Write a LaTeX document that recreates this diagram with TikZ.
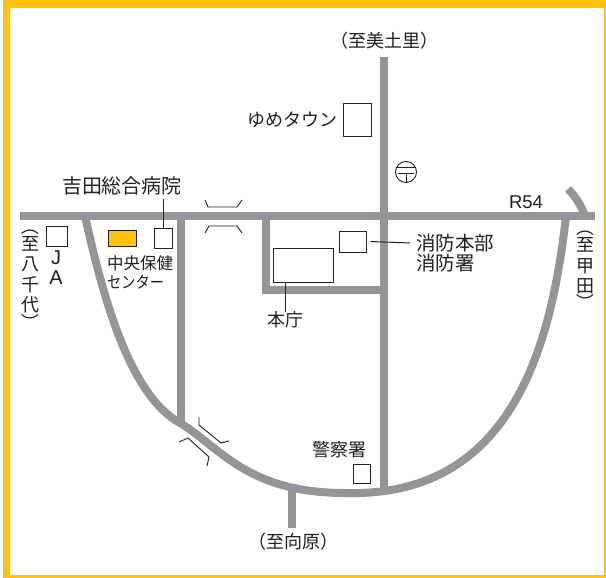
\documentclass[tikz,border=0pt]{standalone}
\usepackage{fontspec}
\setmainfont{Noto Sans CJK JP}
\newfontfamily\latinf{Liberation Sans}
\newcommand{\vparen}[2]{\smash{\raisebox{#2}{\rotatebox[origin=c]{-90}{#1}}}}
\tikzset{
  road/.style={draw=roadgray,line width=8pt,line cap=butt,line join=miter},
  bridgeline/.style={draw=inkc,line width=0.9pt},
  bldg/.style={draw=inkc,line width=1pt,fill=white,inner sep=0pt,minimum width=#1},
  leader/.style={draw=inkc,line width=1pt},
  lbl/.style={text=inkc,inner sep=0pt,font=\fontsize{#1}{#1}\selectfont},
  stack/.style={text=inkc,inner sep=0pt,align=center,font=\fontsize{18}{20.4}\selectfont},
}
\definecolor{roadgray}{HTML}{939598}
\definecolor{inkc}{HTML}{231F20}
\definecolor{bordery}{HTML}{FFC20E}
\begin{document}
\begin{tikzpicture}[x=1pt,y=-1pt]
\useasboundingbox (0,0) rectangle (606,578);
\fill[white] (0,0) rectangle (606,578);
% border
\fill[bordery,even odd rule] (3,0) rectangle (606,578) (10,8) rectangle (604,575);
% roads
\draw[road] (20,216) -- (595,216);
\draw[road] (384,57) -- (384,490);
\draw[road] (181,216) -- (181,422);
\draw[road] (266,216) -- (266,290) -- (384,290);
\draw[road] (292,488) -- (292,528);
\draw[road] (85,216) .. controls (102,292) and (128,394) .. (180,423)
  .. controls (205,438) and (225,462) .. (262,478)
  .. controls (290,490) and (320,493) .. (345,493)
  .. controls (515,498) and (552,340) .. (566,216);
\draw[road] (568,189) .. controls (576,197) and (582,207) .. (585,216);
% bridges
\draw[bridgeline] (205,200) -- (208,207) -- (237,207) -- (242,200);
\draw[bridgeline] (205,233) -- (209,226) -- (237,226) -- (242,233);
\draw[bridgeline] (199,417) -- (199,425) -- (221,443) -- (229,441);
\draw[bridgeline] (179,442) -- (188,438) -- (209,457) -- (207,466);
% post office
\draw[bridgeline] (406,172) circle (10.5);
\draw[bridgeline] (396,167) -- (416,167) (398,173) -- (414,173) (406,173) -- (406,182);
% buildings
\node[bldg=28pt,minimum height=33pt] (yume) at (357,120.5) {};
\node[bldg=21pt,minimum height=20pt] (ja) at (56.5,236) {};
\node[bldg=28pt,minimum height=16pt,fill=bordery] (center) at (122,238) {};
\node[bldg=18pt,minimum height=20pt] (hosp) at (163,238) {};
\node[bldg=27pt,minimum height=21pt] (fire) at (352.5,241.5) {};
\node[bldg=60pt,minimum height=34pt] (hall) at (303,265) {};
\node[bldg=17pt,minimum height=19pt] (police) at (361.5,473.5) {};
% labels
\node[lbl=18] (tmisato) at (384,41) {（至美土里）};
\node[lbl=18] (yumetxt) at (292,120) {ゆめタウン};
\node[lbl=20] (hosptxt) at (122,186) {吉田総合病院};
\node[lbl=16.5,anchor=west] (centertxt1) at (107,263) {中央保健};
\node[lbl=16.5,anchor=west] (centertxt2) at (107,282) {\scalebox{0.86}[1]{センター}};
\node[lbl=19.5,anchor=west] (firetxt1) at (416,243) {消防本部};
\node[lbl=19.5,anchor=west] (firetxt2) at (416,263) {消防署};
\node[lbl=18] (halltxt) at (285,320) {本庁};
\node[lbl=18] (policetxt) at (339,450) {警察署};
\node[lbl=18] (tmukai) at (293,542) {（至向原）};
\node[text=inkc,inner sep=0pt,font=\latinf\fontsize{18.5}{18.5}\selectfont] (r54) at (526,202) {R54};
\node[text=inkc,inner sep=0pt,align=center,font=\latinf\fontsize{20}{20}\selectfont] (jatxt) at (56,268) {J\\A};
\node[stack] (tyatsu) at (30,281) {\vparen{（}{-3pt}\\至\\八\\千\\代\\\vparen{）}{3pt}};
\node[stack] (tkou) at (585,272) {\vparen{（}{-3pt}\\至\\甲\\田\\\vparen{）}{3pt}};
% leaders
\draw[leader] (hosptxt.south -| hosp) ++(0,3) -- (hosp.north);
\draw[leader] (fire.east) ++(4,0) -- (firetxt1.west -| 410,242);
\draw[leader] (hall.south -| 285,0) -- (halltxt.north);
\end{tikzpicture}
\end{document}
